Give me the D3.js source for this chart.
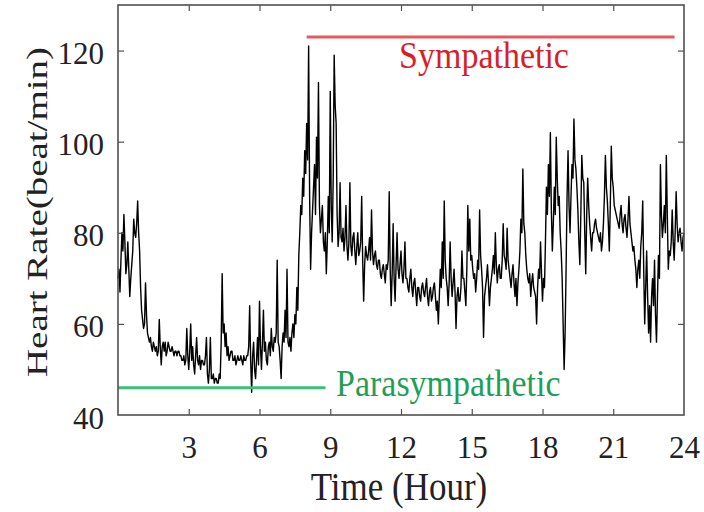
<!DOCTYPE html>
<html><head><meta charset="utf-8">
<script src="https://cdn.jsdelivr.net/npm/d3@7"></script>
<style>html,body{margin:0;padding:0;background:#fff;}svg{display:block;}</style>
</head><body>
<svg id="chart" width="704" height="512"></svg>
<script>
// Heart rate sampled every 2.5 minutes (24 values per hour), plus final value at 24 h
const bpmH00 = [70,72, 67,74, 80,76, 84,78, 71,73, 78,72, 66,70, 73,76, 83,80, 79,82, 87,80, 76,68];
const bpmH01 = [63,61, 59,60, 69,62, 58,57, 56,57, 55,54, 56,55, 54,55, 53,54, 61,55, 51,55, 56,54];
const bpmH02 = [56,53, 54,56, 55,54, 54,55, 54,53, 54,54, 53,54, 54,53, 53,52, 52,53, 51,52, 59,53];
const bpmH03 = [50,54, 60,52, 55,51, 49,53, 57,52, 51,53, 50,52, 52,51, 51,53, 57,49, 47,50, 57,48];
const bpmH04 = [48,49, 47,48, 48,47, 47,49, 48,56, 71,58, 60,55, 58,53, 55,52, 53,54, 54,52, 52,53];
const bpmH05 = [51,52, 53,52, 52,53, 52,51, 53,52, 52,53, 53,55, 64,52, 45,53, 56,50, 48,52, 57,51];
const bpmH06 = [65,55, 50,56, 63,54, 56,52, 51,55, 56,53, 59,55, 54,57, 56,58, 74,56, 55,52, 48,55];
const bpmH07 = [58,56, 63,57, 72,56, 55,57, 54,58, 60,57, 62,60, 68,63, 75,80, 86,84, 92,88, 98,93];
const bpmH08 = [104,96, 121,88, 72,80, 85,90, 95,84, 101,92, 113,86, 80,83, 86,78, 76,80, 71,78, 88,80];
const bpmH09 = [111,86, 78,92, 119,108, 104,84, 77,80, 91,79, 78,81, 76,79, 86,77, 74,78, 91,77, 75,79];
const bpmH10 = [80,76, 73,77, 80,75, 76,78, 88,74, 65,73, 77,75, 74,76, 79,74, 85,76, 73,75, 76,73];
const bpmH11 = [72,74, 74,71, 70,72, 73,71, 69,73, 72,74, 89,72, 64,71, 82,70, 65,73, 80,72, 70,73];
const bpmH12 = [76,71, 69,72, 78,70, 70,68, 67,70, 72,68, 66,69, 70,67, 64,68, 68,66, 65,68, 69,67];
const bpmH13 = [66,68, 70,66, 64,67, 68,65, 66,68, 69,66, 63,65, 60,66, 72,68, 78,70, 87,74, 70,68];
const bpmH14 = [64,69, 78,70, 66,69, 72,67, 59,66, 68,65, 65,68, 76,70, 70,67, 64,72, 86,76, 83,74];
const bpmH15 = [75,72, 70,71, 67,70, 74,72, 85,75, 72,68, 57,66, 68,70, 73,69, 64,68, 70,72, 75,71];
const bpmH16 = [80,73, 69,72, 73,70, 70,74, 82,75, 74,72, 81,74, 72,70, 68,71, 73,69, 66,70, 64,69];
const bpmH17 = [72,76, 83,80, 94,82, 80,75, 72,70, 69,71, 66,69, 71,68, 67,66, 60,68, 72,70, 78,71];
const bpmH18 = [65,70, 68,78, 90,84, 95,88, 102,85, 76,82, 90,84, 101,92, 86,88, 80,76, 70,60, 50,58];
const bpmH19 = [72,88, 98,86, 80,88, 95,92, 105,96, 94,90, 85,78, 73,84, 97,92, 91,80, 71,84, 92,86];
const bpmH20 = [82,79, 76,80, 80,82, 83,81, 80,79, 78,80, 76,78, 82,88, 97,90, 87,82, 76,86, 99,92];
const bpmH21 = [90,86, 85,84, 83,82, 81,84, 86,82, 80,83, 84,81, 79,83, 88,82, 80,78, 76,77, 74,72];
const bpmH22 = [68,72, 74,70, 77,80, 87,72, 60,68, 76,66, 58,64, 56,66, 70,64, 74,62, 56,66, 75,70];
const bpmH23 = [95,84, 79,82, 86,80, 97,84, 72,76, 75,78, 85,78, 74,80, 89,82, 78,80, 81,78, 76,79];
const bpmEnd = [80];
const sampleMinutes = 2.5;

const xTicks = [3, 6, 9, 12, 15, 18, 21, 24];
const yTicks = [40, 60, 80, 100, 120];
const xDomain = [0, 24];
const yDomain = [40, 130];

const sympathetic = {label: "Sympathetic", from: 8, to: 23.6, level: 123};
const parasympathetic = {label: "Parasympathetic", from: 0, to: 8.8, level: 46};

const xLabel = "Time (Hour)";
const yLabel = "Heart Rate(beat/min)";

const bpm = [].concat(bpmH00,bpmH01,bpmH02,bpmH03,bpmH04,bpmH05,bpmH06,bpmH07,bpmH08,bpmH09,bpmH10,bpmH11,
  bpmH12,bpmH13,bpmH14,bpmH15,bpmH16,bpmH17,bpmH18,bpmH19,bpmH20,bpmH21,bpmH22,bpmH23,bpmEnd);
const series = bpm.map((v,i)=>({t: i*sampleMinutes/60, v}));

const svg = d3.select("#chart");
const L = 118, R = 684, T = 5, B = 415;
const x = d3.scaleLinear().domain(xDomain).range([L, R]);
const y = d3.scaleLinear().domain(yDomain).range([B, T]);
const font = "'Liberation Serif','Times New Roman',serif";
const frameColor = "#505050";

// data line
svg.append("path").datum(series)
  .attr("fill","none").attr("stroke","#000").attr("stroke-width",1.4).attr("stroke-linejoin","round")
  .attr("d", d3.line().x(d=>x(d.t)).y(d=>y(d.v)));

// annotation lines
svg.append("line").attr("x1",x(sympathetic.from)).attr("x2",x(sympathetic.to))
  .attr("y1",y(sympathetic.level)).attr("y2",y(sympathetic.level))
  .attr("stroke","#e8585c").attr("stroke-width",3);
svg.append("line").attr("x1",x(parasympathetic.from)).attr("x2",x(parasympathetic.to))
  .attr("y1",y(parasympathetic.level)).attr("y2",y(parasympathetic.level))
  .attr("stroke","#3dbd7d").attr("stroke-width",3);

svg.append("text").attr("transform",`translate(484,68) scale(1,1.12)`)
  .attr("text-anchor","middle").attr("font-family",font).attr("font-size",34)
  .attr("fill","#d81e28").text(sympathetic.label);
svg.append("text").attr("transform",`translate(336,396) scale(1,1.12)`)
  .attr("text-anchor","start").attr("font-family",font).attr("font-size",34)
  .attr("fill","#1f9e58").text(parasympathetic.label);

// axes (bottom/left with labels, top/right mirrored ticks)
const tickLen = 6;
const gx = svg.append("g").attr("transform",`translate(0,${B})`)
  .call(d3.axisBottom(x).tickValues(xTicks).tickSizeInner(-tickLen).tickSizeOuter(0).tickPadding(21));
const gxt = svg.append("g").attr("transform",`translate(0,${T})`)
  .call(d3.axisTop(x).tickValues(xTicks.filter(v=>v<24)).tickSizeInner(-tickLen).tickSizeOuter(0).tickFormat(""));
const gy = svg.append("g").attr("transform",`translate(${L},0)`)
  .call(d3.axisLeft(y).tickValues(yTicks).tickSizeInner(-tickLen).tickSizeOuter(0).tickPadding(14));
const gyr = svg.append("g").attr("transform",`translate(${R},0)`)
  .call(d3.axisRight(y).tickValues(yTicks).tickSizeInner(-tickLen).tickSizeOuter(0).tickFormat(""));

[gx,gxt,gy,gyr].forEach(g=>{
  g.select(".domain").remove();
  g.selectAll(".tick line").attr("stroke",frameColor).attr("stroke-width",1.2);
  g.selectAll(".tick text").attr("font-family",font).attr("font-size",31).attr("fill","#222");
});
gx.selectAll(".tick").filter(d=>d===24).select("line").remove();
gy.selectAll(".tick").filter(d=>d===40).select("line").remove();
gyr.selectAll(".tick").filter(d=>d===40).select("line").remove();
gy.selectAll(".tick text").attr("dy","0.42em");

svg.append("rect").attr("x",L).attr("y",T).attr("width",R-L).attr("height",B-T)
  .attr("fill","none").attr("stroke",frameColor).attr("stroke-width",1.6);

// axis titles
svg.append("text").attr("transform",`translate(399,500) scale(1,1.12)`)
  .attr("text-anchor","middle").attr("font-family",font).attr("font-size",35).attr("fill","#222").text(xLabel);
svg.append("text").attr("transform",`translate(47,212) scale(1,1.3) rotate(-90)`)
  .attr("text-anchor","middle").attr("font-family",font).attr("font-size",30).attr("fill","#222").text(yLabel);
</script>
</body></html>
